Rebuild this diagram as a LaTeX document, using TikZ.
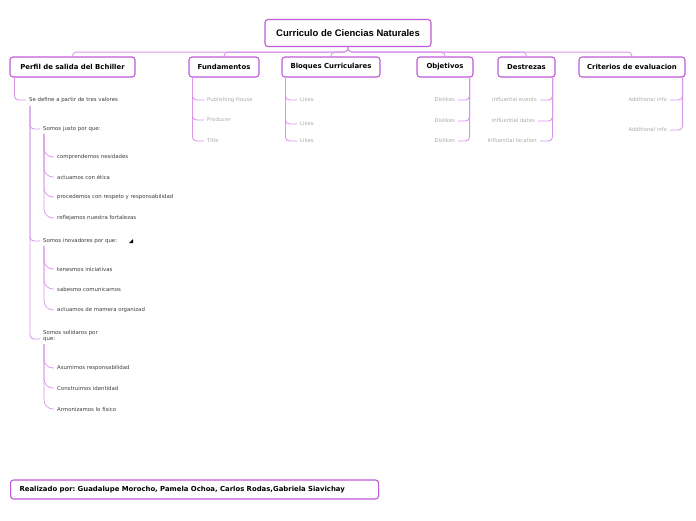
\documentclass[tikz,border=0pt]{standalone}
\usepackage{fontspec}
\setmainfont{DejaVu Sans}
\newfontfamily\titlefont{Liberation Sans}
\usepackage{xcolor}
\definecolor{boxline}{RGB}{190,90,215}
\definecolor{linkline}{RGB}{215,150,232}
\definecolor{leafgray}{RGB}{170,170,170}
\definecolor{subtext}{RGB}{60,60,60}
\frenchspacing

\begin{document}
\begin{tikzpicture}[x=1pt,y=-1pt,
        topic/.style={draw=boxline, line width=1.1pt, rounded corners=3pt, fill=white,
            minimum height=20pt, inner sep=0pt, font=\bfseries\fontsize{6.9}{7}\selectfont},
        link/.style={draw=linkline, line width=0.9pt, rounded corners=4pt},
        curvy/.style={draw=linkline, line width=0.7pt, rounded corners=9pt},
        leaf/.style={inner sep=0pt, text=leafgray, font=\fontsize{5.3}{6}\selectfont},
        item/.style={inner sep=0pt, text=subtext, font=\fontsize{5.4}{6.4}\selectfont, align=left}]
        \useasboundingbox (0,0) rectangle (696,520);

        % Main topic and the six branches
        \node[topic, minimum width=166pt, minimum height=27pt, font=\titlefont\bfseries\fontsize{9.5}{11}\selectfont] (root) at (348,33) {Curriculo de Ciencias Naturales};
        \node[topic, minimum width=125pt] (perfil) at (72.5,67) {Perfil de salida del Bchiller};
        \node[topic, minimum width=70pt] (fund) at (224,67) {Fundamentos};
        \node[topic, minimum width=98pt] (bloques) at (331,67) {Bloques Curriculares};
        \node[topic, minimum width=56pt] (obj) at (445,67) {Objetivos};
        \node[topic, minimum width=57pt] (destr) at (526.5,67) {Destrezas};
        \node[topic, minimum width=106pt] (crit) at (632,67) {Criterios de evaluacion};

        \foreach \child in {perfil,fund,bloques,obj,destr,crit}
            \draw[link] (root.south) -- ++(0,5) -| (\child.north);

        % Perfil de salida
        \node[item, anchor=west] (valores) at (29,100) {Se define a partir de tres valores};
        \draw[link] ([xshift=5pt]perfil.south west) |- ([xshift=-3pt]valores.west);

        \node[item, anchor=west] (justo) at (43,129) {Somos justo por que:};
        \node[item, anchor=west] (inova) at (43,241) {Somos inovadores por que:};
        \node[item, anchor=north west] (solid) at (43,330) {Somos solidaros por\\que:};
        \draw[link] ([xshift=1pt,yshift=-3pt]valores.south west) |- ([xshift=-3pt]justo.west);
        \draw[link] ([xshift=1pt,yshift=-3pt]valores.south west) |- ([xshift=-3pt]inova.west);
        \draw[link] ([xshift=1pt,yshift=-3pt]valores.south west) |- ([xshift=-3pt,yshift=-3pt]solid.west);
        \fill (129,243) -- (133,239) -- (133,243) -- cycle;

        \node[item, anchor=west] (j1) at (57,157) {comprendemos nesidades};
        \node[item, anchor=west] (j2) at (57,177) {actuamos con ética};
        \node[item, anchor=west] (j3) at (57,197) {procedemos con respeto y responsabilidad};
        \node[item, anchor=west] (j4) at (57,218) {reflejamos nuestra fortalezas};
        \foreach \n in {j1,j2,j3,j4}
            \draw[curvy] ([xshift=1pt,yshift=-2pt]justo.south west) |- ([xshift=-3pt]\n.west);

        \node[item, anchor=west] (i1) at (57,269) {tenesmos iniciativas};
        \node[item, anchor=west] (i2) at (57,289) {sabesmo comunicarnos};
        \node[item, anchor=west] (i3) at (57,310) {actuamos de mamera organizad};
        \foreach \n in {i1,i2,i3}
            \draw[curvy] ([xshift=1pt,yshift=-2pt]inova.south west) |- ([xshift=-3pt]\n.west);

        \node[item, anchor=west] (s1) at (57,368) {Asumimos responsabilidad};
        \node[item, anchor=west] (s2) at (57,388) {Construimos identidad};
        \node[item, anchor=west] (s3) at (57,409) {Armonizamos lo físico};
        \foreach \n in {s1,s2,s3}
            \draw[curvy] ([xshift=1pt,yshift=-2pt]solid.south west) |- ([xshift=-3pt]\n.west);

        % Fundamentos
        \node[leaf, anchor=west] (f1) at (207,100) {Publishing House};
        \node[leaf, anchor=west] (f2) at (207,120) {Producer};
        \node[leaf, anchor=west] (f3) at (207,141) {Title};
        \foreach \n in {f1,f2,f3}
            \draw[link] ([xshift=4pt]fund.south west) |- ([xshift=-3pt]\n.west);

        % Bloques curriculares
        \node[leaf, anchor=west] (b1) at (300,100) {Likes};
        \node[leaf, anchor=west] (b2) at (300,124) {Likes};
        \node[leaf, anchor=west] (b3) at (300,141) {Likes};
        \foreach \n in {b1,b2,b3}
            \draw[link] ([xshift=4pt]bloques.south west) |- ([xshift=-3pt]\n.west);

        % Objetivos
        \node[leaf, anchor=east] (o1) at (455,100) {Dislikes};
        \node[leaf, anchor=east] (o2) at (455,121) {Dislikes};
        \node[leaf, anchor=east] (o3) at (455,141) {Dislikes};
        \foreach \n in {o1,o2,o3}
            \draw[link] ([xshift=-4pt]obj.south east) |- ([xshift=3pt]\n.east);

        % Destrezas
        \node[leaf, anchor=east] (d1) at (537,100) {Influental events};
        \node[leaf, anchor=east] (d2) at (535,121) {Influential dates};
        \node[leaf, anchor=east] (d3) at (537,141) {Influential location};
        \foreach \n in {d1,d2,d3}
            \draw[link] ([xshift=-3pt]destr.south east) |- ([xshift=3pt]\n.east);

        % Criterios de evaluacion
        \node[leaf, anchor=east] (c1) at (667,100) {Additional info};
        \node[leaf, anchor=east] (c2) at (667,130) {Additional info};
        \foreach \n in {c1,c2}
            \draw[link] ([xshift=-3pt]crit.south east) |- ([xshift=3pt]\n.east);

        % Footer
        \node[topic, anchor=west, text width=350pt, minimum height=19pt, inner xsep=9pt, align=left] (autores) at (10,489.5) {Realizado por: Guadalupe Morocho, Pamela Ochoa, Carlos Rodas,Gabriela Siavichay};
    \end{tikzpicture}
\end{document}
